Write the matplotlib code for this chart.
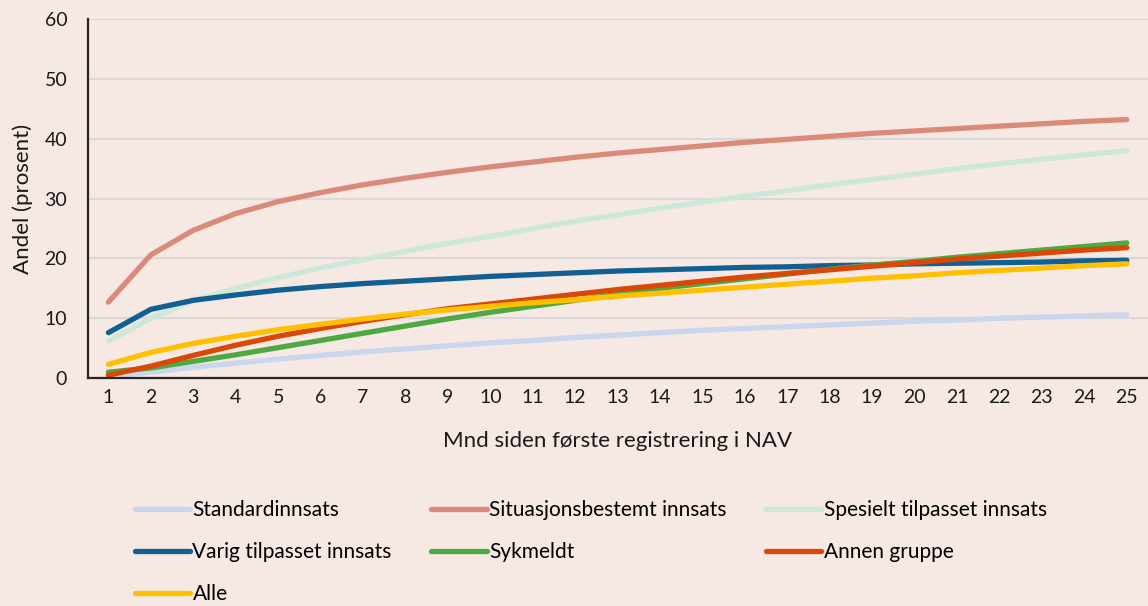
import matplotlib.pyplot as plt

OUTPUT_PATH = "out.png"

months = list(range(1, 26))

standard = [0.2, 1.0, 1.8, 2.5, 3.2, 3.8, 4.4, 4.9, 5.4, 5.9, 6.3, 6.8, 7.2,
            7.6, 8.0, 8.3, 8.6, 8.9, 9.2, 9.5, 9.7, 10.0, 10.2, 10.4, 10.6]
situasjon = [12.7, 20.6, 24.7, 27.5, 29.5, 31.0, 32.3, 33.4, 34.4, 35.3, 36.1,
             36.9, 37.6, 38.2, 38.8, 39.4, 39.9, 40.4, 40.9, 41.3, 41.7, 42.1,
             42.5, 42.9, 43.2]
spesielt = [6.2, 10.0, 13.0, 15.0, 16.8, 18.4, 19.8, 21.2, 22.5, 23.7, 25.0,
            26.2, 27.3, 28.4, 29.4, 30.4, 31.3, 32.3, 33.2, 34.1, 35.0, 35.8,
            36.6, 37.3, 38.0]
varig = [7.6, 11.5, 13.0, 13.9, 14.7, 15.3, 15.8, 16.2, 16.6, 17.0, 17.3, 17.6,
         17.9, 18.1, 18.3, 18.5, 18.6, 18.8, 18.9, 19.1, 19.2, 19.3, 19.4,
         19.6, 19.7]
sykmeldt = [1.0, 1.7, 2.8, 3.9, 5.1, 6.3, 7.5, 8.7, 9.9, 11.0, 12.0, 13.0,
            14.0, 15.0, 15.8, 16.6, 17.4, 18.2, 18.9, 19.5, 20.2, 20.8, 21.4,
            22.0, 22.6]
annen = [0.5, 2.0, 3.8, 5.5, 7.0, 8.3, 9.5, 10.6, 11.6, 12.4, 13.2, 14.0, 14.8,
         15.5, 16.2, 16.9, 17.5, 18.1, 18.7, 19.3, 19.9, 20.4, 20.9, 21.4, 21.8]
alle = [2.3, 4.3, 5.8, 7.0, 8.1, 9.0, 9.9, 10.7, 11.4, 12.0, 12.6, 13.1, 13.7,
        14.2, 14.7, 15.2, 15.7, 16.2, 16.7, 17.1, 17.6, 18.0, 18.4, 18.8, 19.1]

series = [
    ("Standardinnsats", standard, "#C9D6EE"),
    ("Situasjonsbestemt innsats", situasjon, "#D98A78"),
    ("Spesielt tilpasset innsats", spesielt, "#CDE8DA"),
    ("Varig tilpasset innsats", varig, "#125F91"),
    ("Sykmeldt", sykmeldt, "#4EA943"),
    ("Annen gruppe", annen, "#DB4707"),
    ("Alle", alle, "#FFC000"),
]

BG = "#F6E8E3"
TXT = "#1a1a1a"


def main():
    plt.rcParams["font.family"] = ["Lato", "DejaVu Sans"]
    fig = plt.figure(figsize=(11.48, 6.06), dpi=100, facecolor=BG)
    ax = fig.add_axes([0.0767, 0.376, 0.9233, 0.5926])
    ax.set_facecolor(BG)

    lines = []
    for label, values, color in series:
        ln, = ax.plot(months, values, color=color, lw=3.8, label=label,
                      solid_capstyle="round", solid_joinstyle="round")
        lines.append(ln)

    ax.set_xlim(0.52, 25.5)
    ax.set_ylim(0, 60)
    ax.set_xticks(months)
    ax.set_yticks(range(0, 61, 10))
    ax.tick_params(length=0, labelsize=14, colors=TXT)
    ax.tick_params(axis="x", pad=8)
    ax.tick_params(axis="y", pad=15)
    ax.grid(axis="y", color="#D9D9D9", lw=1.5)
    ax.set_axisbelow(True)
    for side in ["top", "right"]:
        ax.spines[side].set_visible(False)
    for side in ["left", "bottom"]:
        ax.spines[side].set_color("#262626")
        ax.spines[side].set_linewidth(1.6)

    ax.set_xlabel("Mnd siden første registrering i NAV", fontsize=16,
                  color=TXT, labelpad=18)
    ax.set_ylabel("Andel (prosent)", fontsize=16, color=TXT, labelpad=8)

    # legend fills by column, so reorder to read row by row like the original
    order = [0, 3, 6, 1, 4, 2, 5]
    fig.legend([lines[i] for i in order], [series[i][0] for i in order],
               loc="upper left", bbox_to_anchor=(0.1174, 0.175), ncol=3,
               frameon=False, fontsize=15, handlelength=2.65,
               handletextpad=0.12, labelspacing=1.06, columnspacing=1.9,
               borderaxespad=0, borderpad=0)

    fig.savefig(OUTPUT_PATH, facecolor=BG)
    plt.close(fig)


if __name__ == "__main__":
    main()
